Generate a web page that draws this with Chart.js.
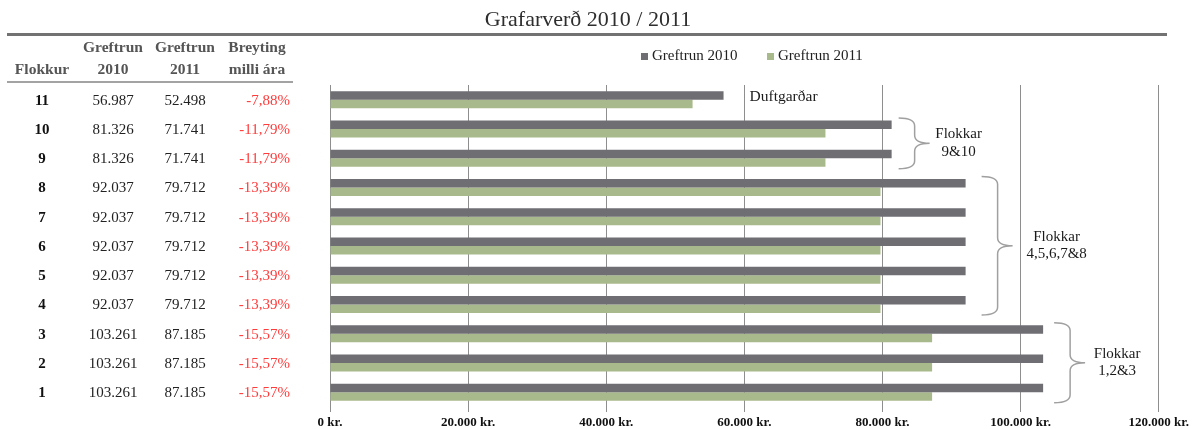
<!DOCTYPE html>
<html>
<head>
<meta charset="utf-8">
<script src="https://cdn.jsdelivr.net/npm/chart.js@4"></script>
<style>
  html, body { margin: 0; padding: 0; background: #fff; }
  #wrap { width: 1192px; height: 429px; }
</style>
</head>
<body>
<div id="wrap"><canvas id="c" width="1192" height="429"></canvas></div>
<script>
// ---- data ----
const categories = ['11', '10', '9', '8', '7', '6', '5', '4', '3', '2', '1'];
const greftrun2010 = [56987, 81326, 81326, 92037, 92037, 92037, 92037, 92037, 103261, 103261, 103261];
const greftrun2011 = [52498, 71741, 71741, 79712, 79712, 79712, 79712, 79712, 87185, 87185, 87185];
const breyting = ['-7,88%', '-11,79%', '-11,79%', '-13,39%', '-13,39%', '-13,39%', '-13,39%', '-13,39%', '-15,57%', '-15,57%', '-15,57%'];
const seriesNames = ['Greftrun 2010', 'Greftrun 2011'];
const xTickValues = [0, 20000, 40000, 60000, 80000, 100000, 120000];
const titleText = 'Grafarverð 2010 / 2011';
const tableHeaders = [['', 'Flokkur'], ['Greftrun', '2010'], ['Greftrun', '2011'], ['Breyting', 'milli ára']];
const groupNotes = [
  { lines: ['Flokkar', '9&10'], from: '10', to: '9' },
  { lines: ['Flokkar', '4,5,6,7&8'], from: '8', to: '4' },
  { lines: ['Flokkar', '1,2&3'], from: '3', to: '1' }
];
const singleNote = { text: 'Duftgarðar', cat: '11' };

// ---- styles ----
const SERIF = '"Liberation Serif", "DejaVu Serif", serif';
const C2010 = '#6f6e73';
const C2011 = '#a8b98b';
const GRID = '#8e8e8e';

const fmt = v => String(v).replace(/\B(?=(\d{3})+(?!\d))/g, '.');

const decorPlugin = {
  id: 'decor',
  afterDraw(chart) {
    const ctx = chart.ctx;
    const xs = chart.scales.x, ys = chart.scales.y;
    ctx.save();
    // title
    ctx.fillStyle = '#2e2e2e';
    ctx.font = '22px ' + SERIF;
    ctx.textAlign = 'center';
    ctx.textBaseline = 'middle';
    ctx.fillText(titleText, 588, 20);
    // thick rule
    ctx.fillStyle = '#727272';
    ctx.fillRect(7, 33, 1160, 3);
    // legend
    const legendItems = [
      { x: 641, color: C2010, text: seriesNames[0] },
      { x: 767, color: C2011, text: seriesNames[1] }
    ];
    ctx.font = '15px ' + SERIF;
    ctx.textAlign = 'left';
    legendItems.forEach(it => {
      ctx.fillStyle = it.color;
      ctx.fillRect(it.x, 53, 7, 7);
      ctx.fillStyle = '#222';
      ctx.fillText(it.text, it.x + 11, 56);
    });
    // table header
    const colX = [42, 113, 185, 257];
    ctx.font = 'bold 15.5px ' + SERIF;
    ctx.fillStyle = '#555';
    ctx.textAlign = 'center';
    tableHeaders.forEach((h, i) => {
      if (h[0]) ctx.fillText(h[0], colX[i], 48);
      ctx.fillText(h[1], colX[i], 70);
    });
    ctx.fillStyle = '#a3a3a3';
    ctx.fillRect(7, 81, 286, 2);
    // table rows
    categories.forEach((cat, i) => {
      const y = ys.getPixelForValue(i) + 1;
      ctx.textAlign = 'center';
      ctx.font = 'bold 15px ' + SERIF;
      ctx.fillStyle = '#111';
      ctx.fillText(cat, colX[0], y);
      ctx.font = '15px ' + SERIF;
      ctx.fillStyle = '#222';
      ctx.fillText(fmt(greftrun2010[i]), colX[1], y);
      ctx.fillText(fmt(greftrun2011[i]), colX[2], y);
      ctx.textAlign = 'right';
      ctx.fillStyle = '#ff3b3b';
      ctx.fillText(breyting[i], 290, y);
    });
    // single note
    const si = categories.indexOf(singleNote.cat);
    ctx.textAlign = 'left';
    ctx.fillStyle = '#1a1a1a';
    ctx.font = '15.5px ' + SERIF;
    ctx.fillText(singleNote.text, xs.getPixelForValue(greftrun2010[si]) + 26, ys.getPixelForValue(si) - 3);
    // braces
    const offs = [{ dx: 7, tx: 60 }, { dx: 16, tx: 75 }, { dx: 11, tx: 63 }];
    groupNotes.forEach((g, gi) => {
      const a = categories.indexOf(g.from), b = categories.indexOf(g.to);
      let mx = 0;
      for (let k = Math.min(a, b); k <= Math.max(a, b); k++) mx = Math.max(mx, greftrun2010[k], greftrun2011[k]);
      const x0 = xs.getPixelForValue(mx) + offs[gi].dx;
      const yTop = ys.getPixelForValue(a) - 11;
      const yBot = ys.getPixelForValue(b) + 10.5;
      const yMid = (yTop + yBot) / 2;
      const xv = x0 + 16, xt = x0 + 31, r = 8;
      ctx.beginPath();
      ctx.moveTo(x0, yTop);
      ctx.quadraticCurveTo(xv, yTop, xv, yTop + r);
      ctx.lineTo(xv, yMid - r);
      ctx.quadraticCurveTo(xv, yMid, xt, yMid);
      ctx.moveTo(xt, yMid);
      ctx.quadraticCurveTo(xv, yMid, xv, yMid + r);
      ctx.lineTo(xv, yBot - r);
      ctx.quadraticCurveTo(xv, yBot, x0, yBot);
      ctx.strokeStyle = '#a0a0a0';
      ctx.lineWidth = 1.5;
      ctx.stroke();
      ctx.fillStyle = '#1a1a1a';
      ctx.font = '15px ' + SERIF;
      ctx.textAlign = 'center';
      ctx.fillText(g.lines[0], x0 + offs[gi].tx, yMid - 9);
      ctx.fillText(g.lines[1], x0 + offs[gi].tx, yMid + 8.5);
    });
    ctx.restore();
  }
};

new Chart(document.getElementById('c'), {
  type: 'bar',
  data: {
    labels: categories,
    datasets: [
      { label: seriesNames[0], data: greftrun2010, backgroundColor: C2010, borderWidth: 0 },
      { label: seriesNames[1], data: greftrun2011, backgroundColor: C2011, borderWidth: 0 }
    ]
  },
  options: {
    indexAxis: 'y',
    responsive: false,
    animation: false,
    layout: { padding: { top: 85, right: 33, left: 0, bottom: 0 } },
    datasets: { bar: { categoryPercentage: 0.58, barPercentage: 1.0 } },
    plugins: {
      legend: { display: false },
      title: { display: false },
      tooltip: { enabled: false }
    },
    scales: {
      y: {
        type: 'category',
        ticks: { display: false },
        grid: { display: false },
        border: { display: true, color: GRID, width: 1 },
        afterFit(s) { s.width = 330; }
      },
      x: {
        type: 'linear',
        min: xTickValues[0],
        max: xTickValues[xTickValues.length - 1],
        afterBuildTicks(s) { s.ticks = xTickValues.map(v => ({ value: v })); },
        ticks: {
          maxRotation: 0,
          autoSkip: false,
          padding: 3,
          color: '#111',
          font: { family: SERIF, size: 13, weight: 'bold' },
          callback: v => fmt(v) + ' kr.'
        },
        grid: { color: GRID, lineWidth: 1, drawTicks: true, tickLength: 5 },
        border: { display: false },
        afterFit(s) { s.height = 22; }
      }
    }
  },
  plugins: [decorPlugin]
});
</script>
</body>
</html>
